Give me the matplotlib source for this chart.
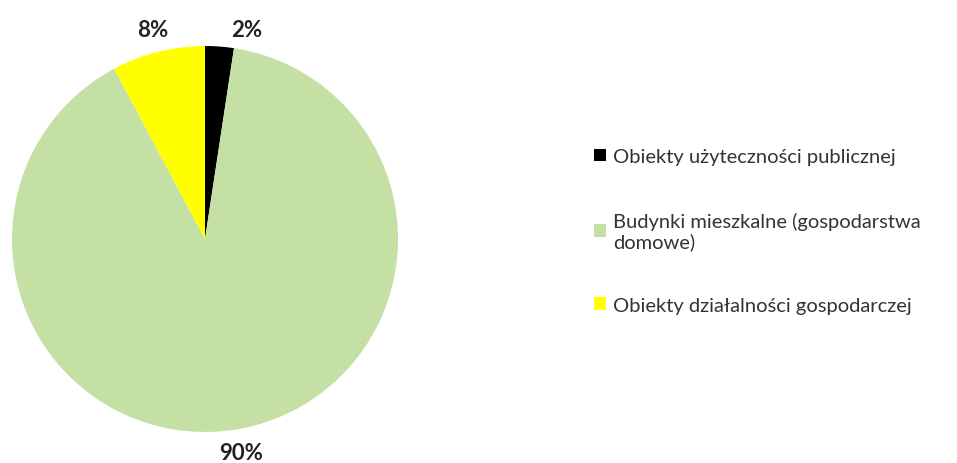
import matplotlib.pyplot as plt

labels = ['Obiekty użyteczności publicznej',
          'Budynki mieszkalne (gospodarstwa\ndomowe)',
          'Obiekty działalności gospodarczej']
shares = [2.4, 89.8, 7.8]
colors = ['#000000', '#c5e0a5', '#ffff00']

plt.rcParams['font.family'] = ['Lato', 'DejaVu Sans']

fig = plt.figure(figsize=(9.57, 4.64), dpi=100)
W, H = 957, 464
cx, cy, r = 205, 240, 193
ax = fig.add_axes([(cx - r) / W, (H - cy - r) / H, 2 * r / W, 2 * r / H])

wedges, texts, autotexts = ax.pie(shares, colors=colors, startangle=90, counterclock=False,
                                  autopct='%.0f%%', pctdistance=1.12, radius=1,
                                  wedgeprops=dict(linewidth=0),
                                  textprops=dict(fontsize=16, fontweight='bold', color='#222222'))
# the small slice label sits a bit to the right in the original
x0, y0 = autotexts[0].get_position()
autotexts[0].set_position((x0 + 0.13, y0 - 0.03))
ax.set_xlim(-1, 1)
ax.set_ylim(-1, 1)
ax.set_aspect('equal')

leg = fig.legend(wedges, labels, loc='upper left', bbox_to_anchor=(576 / W, 1 - 131 / H),
                 frameon=False, fontsize=14.5, handlelength=0.6, handleheight=0.6,
                 handletextpad=0.35, labelspacing=2.3, labelcolor='#333333')
for t in leg.get_texts():
    t.set_linespacing(1.2)

fig.savefig('out.png', dpi=100)
